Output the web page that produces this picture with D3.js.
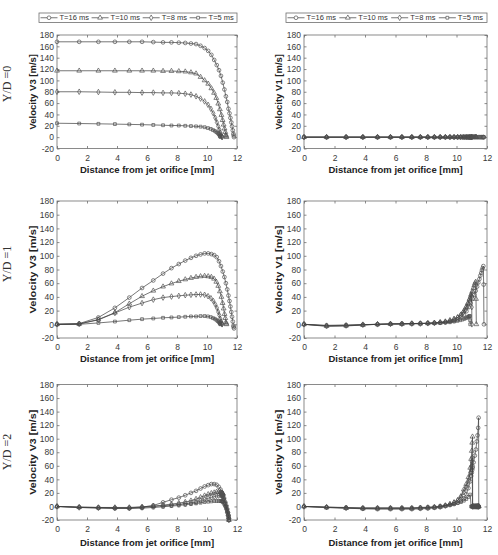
<!DOCTYPE html>
<html><head><meta charset="utf-8">
<script src="https://cdn.jsdelivr.net/npm/d3@7/dist/d3.min.js"></script>
<style>body{margin:0;background:#fff}svg{display:block}</style>
</head><body>
<svg id="chart" width="498" height="555"></svg>
<script>
// ---------- labels / ticks ----------
const seriesNames = ["T=16 ms", "T=10 ms", "T=8 ms", "T=5 ms"];
const rowLabels = ["Y/D =0", "Y/D =1", "Y/D =2"];
const yAxisLabels = ["Velocity V3 [m/s]", "Velocity V1 [m/s]"];
const xAxisLabel = "Distance from jet orifice [mm]";
const xTicks = [0, 2, 4, 6, 8, 10, 12];
const xTickLabels = ["0", "2", "4", "6", "8", "10", "12"];
const yTicks = [-20, 0, 20, 40, 60, 80, 100, 120, 140, 160, 180];
const yTickLabels = ["-20", "0", "20", "40", "60", "80", "100", "120", "140", "160", "180"];

// ---------- sample positions (mm) ----------
const x16 = [0,1.48,2.76,3.86,4.82,5.67,6.42,7.07,7.63,8.12,8.55,8.93,9.27,9.57,9.84,10.08,10.29,10.48,10.65,10.8,10.93,11.05,11.16,11.26,11.35,11.43,11.5,11.56,11.62,11.67,11.72,11.76,11.78,11.8];
const x10 = [0,1.48,2.76,3.86,4.82,5.67,6.42,7.07,7.63,8.12,8.55,8.93,9.27,9.57,9.84,10.08,10.29,10.47,10.62,10.75,10.86,10.96,11.04,11.11,11.17,11.22,11.26,11.28,11.3];
const x8  = [0,1.48,2.76,3.86,4.82,5.67,6.42,7.07,7.63,8.12,8.55,8.93,9.27,9.57,9.84,10.07,10.26,10.42,10.55,10.66,10.75,10.83,10.89,10.94,10.98,11.0,11.01];
const x5  = [0,1.48,2.76,3.86,4.82,5.67,6.42,7.07,7.63,8.12,8.55,8.93,9.27,9.57,9.84,10.06,10.25,10.4,10.52,10.62,10.7,10.76,10.81,10.85,10.88,10.89,10.9];
const xr2 = [0,1.48,2.76,3.86,4.82,5.67,6.42,7.07,7.63,8.12,8.55,8.93,9.27,9.57,9.84,10.08,10.29,10.48,10.64,10.78,10.9,10.96,11.0,11.03,11.05,11.06,11.12,11.2,11.27,11.33,11.38,11.42,11.45,11.46];

// ---------- Y/D = 0 ----------
const v3_r0_t16 = [168,168,168,168,168,168,167.5,167,167,166.5,166,165,164,161,157,152,145,136,127,118,108,96,84,72,62,50,42,34,26,19,12,6,3,0];
const v3_r0_t10 = [117,117,117,117,117,117,117,116.5,116.5,116,115.5,114,112,106,100,94,86,78,69,59,49,39,30,22,15,9,4,2,0];
const v3_r0_t8  = [80,80,79.5,79,79,78.5,78.5,78,78,77.5,76.5,75,72,68,63,57,50,42,34,26,19,13,8,4,1.5,0.5,0];
const v3_r0_t5  = [24.5,24,23.5,23,22.5,22,21.5,21,20.5,20.5,20,19.5,19,18.5,17.5,16,14.5,12.5,11,9,7.5,6,4.5,3,1.5,1,0.5];
const v1_r0_t16 = [0,0,0,0,0,0,0,0,0,0,0,0,0,0,0,0,0,0,0,0,0,0,0,0,0,0,0,0,0,0,0,0,0,0];
const v1_r0_t10 = [0,0,0,0,0,0,0,0,0,0,0,0,0,0,0,0,0,0,0,0,0,0,0,0,0,0,0,0,0];
const v1_r0_t8  = [0,0,0,0,0,0,0,0,0,0,0,0,0,0,0,0,0,0,0,0,0,0,0,0,0,0,0];
const v1_r0_t5  = [0,0,0,0,0,0,0,0,0,0,0,0,0,0,0,0,0,0,0,0,0,0,0,0,0,0,0];

// ---------- Y/D = 1 ----------
const v3_r1_t16 = [0,1,10,24,39,53,64,74,82,88,93,97,100,102,103.5,103.5,102.5,101,98,92,85,77,69,60,51,42,34,26,18,11,4,-2,-4,-6];
const v3_r1_t10 = [0,0.5,7,17,30,41,49,55,59.5,63,65.5,67.5,69,70,70.5,70,69,66.5,62,56,48,40,31,23,15,9,3,1,0];
const v3_r1_t8  = [0,0.5,6.5,16.5,25,31,36,39,40.5,41.5,42.5,43,43.5,43.5,43,41,38,34,29,24,18,13,8,4,1.5,0.5,0];
const v3_r1_t5  = [0,0,2,4,6,7.5,8.5,9.5,10,10.5,11,11.5,11.5,12,12,11.5,10.5,9,8,6.5,5,4,3,2,1,0.5,0];
const v1_r1_t16 = [0,-3,-2.5,-1,0,0.5,1,1,1.5,1.5,2,2.5,3,4,5,7,10,14,19,25,31,37,43,49,55,61,66,71,75,79,82,85,58,0];
const v1_r1_t10 = [0,-2.5,-2,-1,0,0.5,0.5,1,1,1.5,2,2.5,3.5,5,7,10,14,19,25,31,37,43,48,53,57,60,62,37,0];
const v1_r1_t8  = [0,-2,-1.5,-0.5,0,0.5,0.5,1,1,1.5,2,3,4,6,8,10,13,17,21,26,30,35,39,42,45,25,0];
const v1_r1_t5  = [0,-1.5,-1,-0.5,0,0.5,0.5,1,1,1.5,1.5,2,2.5,3,4,5,6,7,8,9,10,11,11.5,12,12,6,0];

// ---------- Y/D = 2 ----------
const v3_r2_t16 = [0,-1,-1.5,-2,-2,-1,1.5,6,10,13,16.5,20,23,26.5,29.5,31.5,33,33,32,29,25,21,19,17.5,16.5,16,11,5,0,-5,-9,-13,-17,-20];
const v3_r2_t10 = [0,-1,-1.5,-1.5,-1.5,-0.5,0.5,2,3.5,5,6.5,8.5,11,13.5,16,18,19.5,20.5,21.5,21.5,21,20.5,20,19.5,19,18.5,14,8,3,-2,-7,-12,-16,-20];
const v3_r2_t8  = [0,-1.5,-2,-2.5,-2.5,-1.5,0,1,2,3,4,5,6.5,8.5,10.5,12,13.5,14.5,15.5,16,16.5,16.5,16,15.5,15,14.5,10,5,0,-5,-10,-14,-17,-20];
const v3_r2_t5  = [0,-1.5,-2.5,-3,-3,-2.5,-1.5,-0.5,0.5,1.5,2.5,3.5,4.5,5.5,6.5,7,7.5,8,8,8,8,8,7.5,7.5,7,7,4,1,-2,-6,-10,-13,-17,-20];
const v1_r2_t16 = [0,-1.5,-2.5,-3.5,-4,-4,-4,-4,-3.5,-3,-2,-1,0.5,2,3.5,5.5,8,12,18,27,37,45,50,54,57,59,65,75,84,96,105,116,131,0];
const v1_r2_t10 = [0,-1.5,-2.5,-3,-3,-3,-3,-3,-2.5,-2,-1.5,-0.5,1,3,5.5,9,15,25,33,43,57,70,82,94,103,0,0,0,0,0,0,0,0,0];
const v1_r2_t8  = [0,-1,-2,-2.5,-2.5,-2.5,-2.5,-2.5,-2,-1.5,-1,0,1.5,3.5,6,9,14,21,29,38,50,59,66,72,0,0,0,0,0,0,0,0,0,0];
const v1_r2_t5  = [0,-1,-1.5,-2,-2,-2,-2,-2,-1.5,-1,-0.5,0.5,1.5,2.5,3.5,5,6.5,8.5,11,14,17.5,0,0,0,0,0,0,0,0,0,0,0,0,0];

// panel -> list of [x, y] per series (T=16, T=10, T=8, T=5)
const panelData = [
  [[[x16,v3_r0_t16],[x10,v3_r0_t10],[x8,v3_r0_t8],[x5,v3_r0_t5]],
   [[x16,v1_r0_t16],[x10,v1_r0_t10],[x8,v1_r0_t8],[x5,v1_r0_t5]]],
  [[[x16,v3_r1_t16],[x10,v3_r1_t10],[x8,v3_r1_t8],[x5,v3_r1_t5]],
   [[x16,v1_r1_t16],[x10,v1_r1_t10],[x8,v1_r1_t8],[x5,v1_r1_t5]]],
  [[[xr2,v3_r2_t16],[xr2,v3_r2_t10],[xr2,v3_r2_t8],[xr2,v3_r2_t5]],
   [[xr2,v1_r2_t16],[xr2,v1_r2_t10],[xr2,v1_r2_t8],[xr2,v1_r2_t5]]]
];

// ---------- layout ----------
const FONT = "'Liberation Sans', Arial, Helvetica, sans-serif";
const SERIF = "'Liberation Serif', 'Times New Roman', serif";
const cols = [
  {l: 57, r: 237, legL: 39, legR: 237, ylabX: 35.5},
  {l: 304, r: 487, legL: 286, legR: 487, ylabX: 281.5}
];
const rows = [
  {t: 35, b: 148.5, xlabY: 173, rowY: 84, ylabLen: null},
  {t: 201, b: 338, xlabY: 361.5, rowY: 264, ylabLen: 88},
  {t: 384.5, b: 520, xlabY: 545.5, rowY: 452, ylabLen: 85}
];
const symbols = [d3.symbolCircle, d3.symbolTriangle, d3.symbolDiamond, d3.symbolSquare];
const symSizes = [11, 10, 9, 8];
const AX = "#6e6e6e", LINE = "#3c3c3c", MARK = "#505050", TXT = "#3a3a3a";

const svg = d3.select("#chart");
svg.append("rect").attr("width", 498).attr("height", 555).attr("fill", "#fff");

rows.forEach((row, ri) => {
  // row label
  svg.append("text")
    .attr("transform", `translate(10.5,${row.rowY}) rotate(-90)`)
    .attr("text-anchor", "middle")
    .attr("font-family", SERIF).attr("font-size", 12).attr("fill", "#333")
    .text(rowLabels[ri]);

  cols.forEach((col, ci) => {
    const x = d3.scaleLinear().domain([0, 12]).range([col.l, col.r]);
    const y = d3.scaleLinear().domain([-20, 180]).range([row.b, row.t]);
    const g = svg.append("g");

    const styleAxis = (sel) => {
      sel.select(".domain").remove();
      sel.selectAll(".tick line").attr("stroke", AX).attr("stroke-width", 0.8);
      sel.selectAll("text").attr("font-family", FONT).attr("font-size", 8.5).attr("fill", TXT);
    };
    g.append("g").attr("transform", `translate(0,${row.b})`)
      .call(d3.axisBottom(x).tickValues(xTicks).tickFormat((d, i) => xTickLabels[i])
        .tickSizeInner(-2.5).tickSizeOuter(0).tickPadding(6)).call(styleAxis);
    g.append("g").attr("transform", `translate(0,${row.t})`)
      .call(d3.axisTop(x).tickValues(xTicks).tickFormat("").tickSizeInner(-2.5).tickSizeOuter(0)).call(styleAxis);
    g.append("g").attr("transform", `translate(${col.l},0)`)
      .call(d3.axisLeft(y).tickValues(yTicks).tickFormat((d, i) => yTickLabels[i])
        .tickSizeInner(-2.5).tickSizeOuter(0).tickPadding(3)).call(styleAxis);
    g.append("g").attr("transform", `translate(${col.r},0)`)
      .call(d3.axisRight(y).tickValues(yTicks).tickFormat("").tickSizeInner(-2.5).tickSizeOuter(0)).call(styleAxis);

    g.append("rect").attr("x", col.l).attr("y", row.t)
      .attr("width", col.r - col.l).attr("height", row.b - row.t)
      .attr("fill", "none").attr("stroke", AX).attr("stroke-width", 0.8);

    g.append("text").attr("x", (col.l + col.r) / 2).attr("y", row.xlabY)
      .attr("text-anchor", "middle").attr("font-family", FONT).attr("font-weight", "bold")
      .attr("font-size", 9.5).attr("fill", "#222").text(xAxisLabel);
    const yl = g.append("text")
      .attr("transform", `translate(${col.ylabX},${(row.t + row.b) / 2}) rotate(-90)`)
      .attr("text-anchor", "middle").attr("font-family", FONT).attr("font-weight", "bold")
      .attr("font-size", 9.5).attr("fill", "#222").text(yAxisLabels[ci]);
    if (row.ylabLen) yl.attr("textLength", row.ylabLen).attr("lengthAdjust", "spacingAndGlyphs");

    const line = d3.line().x(d => x(d[0])).y(d => y(d[1]));
    panelData[ri][ci].forEach((s, si) => {
      const pts = s[0].map((xv, k) => [xv, s[1][k]]);
      g.append("path").datum(pts).attr("d", line)
        .attr("fill", "none").attr("stroke", LINE).attr("stroke-width", 0.7);
      g.append("g").selectAll("path").data(pts).join("path")
        .attr("transform", d => `translate(${x(d[0])},${y(d[1])})`)
        .attr("d", d3.symbol().type(symbols[si]).size(symSizes[si]))
        .attr("fill", "none").attr("stroke", MARK).attr("stroke-width", 0.7);
    });

    if (ri === 0) {
      const lg = svg.append("g");
      const top = 13, h = 9.5;
      lg.append("rect").attr("x", col.legL).attr("y", top).attr("width", col.legR - col.legL)
        .attr("height", h).attr("fill", "#fff").attr("stroke", AX).attr("stroke-width", 0.8);
      const texts = seriesNames.map(n => lg.append("text").attr("font-family", FONT)
        .attr("font-size", 7.5).attr("fill", "#333").attr("y", top + h / 2 + 2.7).text(n));
      const widths = texts.map(t => t.node().getComputedTextLength());
      const lineW = 17, gapA = 2;
      const total = d3.sum(widths) + 4 * (lineW + gapA);
      const gapB = (col.legR - col.legL - 2 - total) / 4;
      let cx = col.legL + 1.5;
      seriesNames.forEach((n, si) => {
        const yy = top + h / 2;
        lg.append("line").attr("x1", cx).attr("x2", cx + lineW).attr("y1", yy).attr("y2", yy)
          .attr("stroke", LINE).attr("stroke-width", 0.7);
        lg.append("path").attr("transform", `translate(${cx + lineW / 2},${yy})`)
          .attr("d", d3.symbol().type(symbols[si]).size(symSizes[si]))
          .attr("fill", "#fff").attr("stroke", MARK).attr("stroke-width", 0.7);
        texts[si].attr("x", cx + lineW + gapA);
        cx += lineW + gapA + widths[si] + gapB;
      });
    }
  });
});
</script>
</body></html>
